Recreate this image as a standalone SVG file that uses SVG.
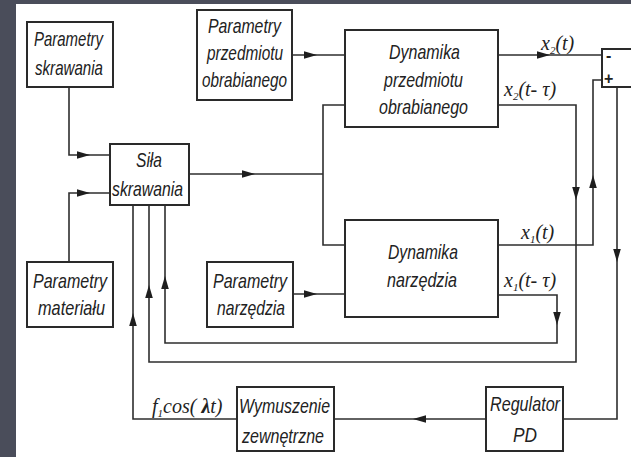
<svg xmlns="http://www.w3.org/2000/svg" xmlns:xlink="http://www.w3.org/1999/xlink" width="631" height="457" viewBox="0 0 631 457">
  <style>
    .box { fill: #ffffff; stroke: #2a2a2a; stroke-width: 2; }
    .wire { fill: none; stroke: #2e2e2e; stroke-width: 1.6; }
    .lbl { font-family: "Liberation Sans", Arial, sans-serif; font-style: italic; font-size: 21px; fill: #222; }
    .sig { font-family: "Liberation Serif", "Times New Roman", serif; font-style: italic; font-size: 20px; fill: #222; }
    .sub { font-size: 11px; }
    .sign { font-family: "Liberation Sans", Arial, sans-serif; font-size: 16px; font-weight: bold; fill: #222; }
    .head { fill: #1e1e1e; }
  </style>
  <defs>
    <!-- arrowhead pointing along +x, tip at origin -->
    <path id="ah" class="head" d="M0,0 L-13,-3.8 L-13,3.8 Z"/>
  </defs>

  <!-- frame -->
  <rect x="0" y="0" width="631" height="457" fill="#4a4d5a"/>
  <rect x="16" y="4" width="615" height="453" fill="#ffffff"/>

  <g id="connectors">
    <polyline class="wire" points="69,87 69,155 110,155"/>
    <polyline class="wire" points="69,262 69,193 110,193"/>
    <polyline class="wire" points="189,174 323,174"/>
    <polyline class="wire" points="345,105 323,105 323,245 345,245"/>
    <polyline class="wire" points="292,55 345,55"/>
    <polyline class="wire" points="293,294 345,294"/>
    <polyline class="wire" points="498,55 602,55"/>
    <polyline class="wire" points="498,105 576,105 576,362 149,362 149,205"/>
    <polyline class="wire" points="498,295 557,295 557,343 165,343 165,205"/>
    <polyline class="wire" points="498,245 593,245 593,80 602,80"/>
    <polyline class="wire" points="617,87 617,419 563,419"/>
    <polyline class="wire" points="486,419 334,419"/>
    <polyline class="wire" points="237,419 133,419 133,205"/>

    <use xlink:href="#ah" transform="translate(90,155)"/>
    <use xlink:href="#ah" transform="translate(90,193)"/>
    <use xlink:href="#ah" transform="translate(255,174)"/>
    <use xlink:href="#ah" transform="translate(317,55)"/>
    <use xlink:href="#ah" transform="translate(317,294)"/>
    <use xlink:href="#ah" transform="translate(550,55)"/>
    <use xlink:href="#ah" transform="translate(576,200) rotate(90)"/>
    <use xlink:href="#ah" transform="translate(149,285) rotate(-90)"/>
    <use xlink:href="#ah" transform="translate(557,325) rotate(90)"/>
    <use xlink:href="#ah" transform="translate(165,276) rotate(-90)"/>
    <use xlink:href="#ah" transform="translate(593,175) rotate(-90)"/>
    <use xlink:href="#ah" transform="translate(617,262) rotate(90)"/>
    <use xlink:href="#ah" transform="translate(413,419) rotate(180)"/>
    <use xlink:href="#ah" transform="translate(133,313) rotate(-90)"/>

    <text class="sig" x="541" y="50">x<tspan class="sub" dy="4">2</tspan><tspan dy="-4">(t)</tspan></text>
    <text class="sig" x="504" y="96">x<tspan class="sub" dy="4">2</tspan><tspan dy="-4">(t- τ)</tspan></text>
    <text class="sig" x="521" y="239">x<tspan class="sub" dy="4">1</tspan><tspan dy="-4">(t)</tspan></text>
    <text class="sig" x="504" y="287">x<tspan class="sub" dy="4">1</tspan><tspan dy="-4">(t- τ)</tspan></text>
    <text class="sig" x="152" y="413">f<tspan class="sub" dy="4">1</tspan><tspan dy="-4">cos( </tspan><tspan font-weight="bold">λ</tspan>t)</text>
  </g>

  <g id="param-skrawania">
    <rect class="box" x="27" y="22" width="86" height="65"/>
    <text class="lbl" x="34" y="46" textLength="69" lengthAdjust="spacingAndGlyphs">Parametry</text>
    <text class="lbl" x="35" y="75" textLength="68" lengthAdjust="spacingAndGlyphs">skrawania</text>
  </g>

  <g id="param-przedmiotu">
    <rect class="box" x="197" y="10" width="95" height="90"/>
    <text class="lbl" x="208" y="33" textLength="73" lengthAdjust="spacingAndGlyphs">Parametry</text>
    <text class="lbl" x="207" y="60" textLength="76" lengthAdjust="spacingAndGlyphs">przedmiotu</text>
    <text class="lbl" x="202" y="87" textLength="85" lengthAdjust="spacingAndGlyphs">obrabianego</text>
  </g>

  <g id="sila-skrawania">
    <rect class="box" x="110" y="144" width="79" height="61"/>
    <text class="lbl" x="136" y="167" textLength="26" lengthAdjust="spacingAndGlyphs">Siła</text>
    <text class="lbl" x="112" y="196" textLength="71" lengthAdjust="spacingAndGlyphs">skrawania</text>
  </g>

  <g id="param-materialu">
    <rect class="box" x="27" y="262" width="86" height="65"/>
    <text class="lbl" x="33" y="288" textLength="74" lengthAdjust="spacingAndGlyphs">Parametry</text>
    <text class="lbl" x="38" y="315" textLength="67" lengthAdjust="spacingAndGlyphs">materiału</text>
  </g>

  <g id="param-narzedzia">
    <rect class="box" x="207" y="262" width="86" height="65"/>
    <text class="lbl" x="213" y="288" textLength="74" lengthAdjust="spacingAndGlyphs">Parametry</text>
    <text class="lbl" x="217" y="315" textLength="68" lengthAdjust="spacingAndGlyphs">narzędzia</text>
  </g>

  <g id="dyn-przedmiotu">
    <rect class="box" x="345" y="30" width="153" height="97"/>
    <text class="lbl" x="389" y="59" textLength="71" lengthAdjust="spacingAndGlyphs">Dynamika</text>
    <text class="lbl" x="384" y="87" textLength="79" lengthAdjust="spacingAndGlyphs">przedmiotu</text>
    <text class="lbl" x="379" y="114" textLength="89" lengthAdjust="spacingAndGlyphs">obrabianego</text>
  </g>

  <g id="dyn-narzedzia">
    <rect class="box" x="345" y="220" width="153" height="97"/>
    <text class="lbl" x="388" y="259" textLength="70" lengthAdjust="spacingAndGlyphs">Dynamika</text>
    <text class="lbl" x="387" y="287" textLength="70" lengthAdjust="spacingAndGlyphs">narzędzia</text>
  </g>

  <g id="sumator">
    <rect class="box" x="602" y="49" width="40" height="38"/>
    <text class="sign" x="606" y="61">-</text>
    <text class="sign" x="604" y="84">+</text>
  </g>

  <g id="wymuszenie">
    <rect class="box" x="237" y="387" width="97" height="64"/>
    <text class="lbl" x="239" y="413" textLength="91" lengthAdjust="spacingAndGlyphs">Wymuszenie</text>
    <text class="lbl" x="242" y="443" textLength="82" lengthAdjust="spacingAndGlyphs">zewnętrzne</text>
  </g>

  <g id="regulator">
    <rect class="box" x="486" y="387" width="77" height="64"/>
    <text class="lbl" x="490" y="411" textLength="70" lengthAdjust="spacingAndGlyphs">Regulator</text>
    <text class="lbl" x="513" y="442" textLength="24" lengthAdjust="spacingAndGlyphs">PD</text>
  </g>
</svg>
